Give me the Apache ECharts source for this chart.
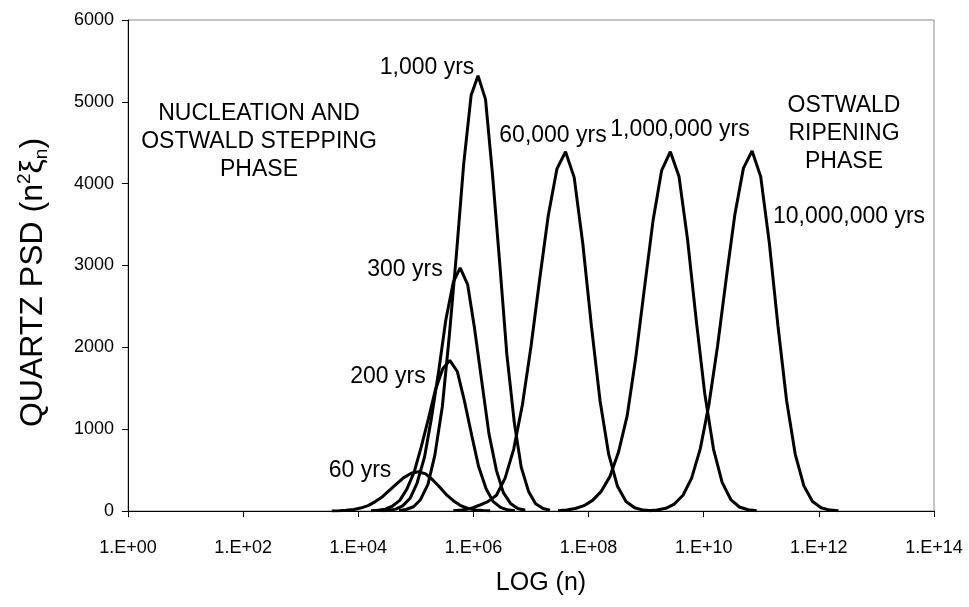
<!DOCTYPE html>
<html>
<head>
<meta charset="utf-8">
<script src="https://cdn.jsdelivr.net/npm/echarts@6/dist/echarts.min.js"></script>
<style>
  html, body { margin: 0; padding: 0; background: #fff; }
  #chart { width: 969px; height: 607px; }
</style>
</head>
<body>
<div id="chart"></div>
<script>
// Particle size distributions: x = log10(n), y = n^2 * xi_n

const logN60 = [3.54, 3.67, 3.79, 3.92, 4.04, 4.17, 4.29, 4.42, 4.54, 4.67, 4.79, 4.92, 5.04, 5.17, 5.29, 5.42, 5.54, 5.67, 5.79, 5.92, 6.04, 6.17, 6.29];
const psd60  = [1, 4, 8, 18, 36, 66, 112, 175, 252, 334, 408, 461, 480, 453, 382, 287, 193, 115, 62, 29, 12, 5, 2];

const logN200 = [4.22, 4.34, 4.47, 4.59, 4.72, 4.84, 4.97, 5.09, 5.22, 5.34, 5.47, 5.59, 5.72, 5.84, 5.97, 6.09, 6.22, 6.34, 6.47, 6.59, 6.72];
const psd200  = [3, 8, 23, 58, 130, 262, 476, 774, 1131, 1482, 1743, 1840, 1705, 1356, 926, 543, 273, 118, 44, 14, 4];

const logN300 = [4.40, 4.52, 4.65, 4.77, 4.90, 5.02, 5.15, 5.27, 5.40, 5.52, 5.65, 5.77, 5.90, 6.02, 6.15, 6.27, 6.40, 6.52, 6.65, 6.77, 6.90];
const psd300  = [2, 7, 23, 63, 155, 339, 658, 1132, 1727, 2334, 2796, 2970, 2765, 2229, 1557, 942, 494, 225, 88, 30, 9];

const logN1000 = [4.71, 4.83, 4.96, 5.08, 5.21, 5.33, 5.46, 5.58, 5.71, 5.83, 5.96, 6.08, 6.21, 6.33, 6.46, 6.58, 6.71, 6.83, 6.96, 7.08, 7.21, 7.33];
const psd1000  = [5, 18, 52, 138, 325, 683, 1277, 2135, 3183, 4236, 5080, 5320, 5030, 4122, 2997, 1917, 1080, 536, 234, 90, 30, 9];

const logN60k = [5.65, 5.80, 5.95, 6.10, 6.25, 6.40, 6.55, 6.70, 6.85, 7.00, 7.15, 7.30, 7.45, 7.60, 7.75, 7.90, 8.05, 8.20, 8.35, 8.50, 8.65, 8.80, 8.95, 9.10];
const psd60k  = [4, 12, 30, 70, 115, 193, 401, 757, 1295, 2010, 2829, 3611, 4180, 4390, 4077, 3266, 2256, 1344, 691, 306, 117, 39, 11, 3];

const logN1M = [7.47, 7.62, 7.77, 7.92, 8.07, 8.22, 8.37, 8.52, 8.67, 8.82, 8.97, 9.12, 9.27, 9.42, 9.57, 9.72, 9.87, 10.02, 10.17, 10.32, 10.47, 10.62, 10.77, 10.92];
const psd1M  = [4, 12, 30, 65, 130, 240, 420, 720, 1162, 1875, 2720, 3549, 4163, 4390, 4092, 3314, 2332, 1425, 757, 349, 140, 49, 15, 4];

const logN10M = [9.04, 9.19, 9.34, 9.49, 9.64, 9.79, 9.94, 10.09, 10.24, 10.39, 10.54, 10.69, 10.84, 10.99, 11.14, 11.29, 11.44, 11.59, 11.74, 11.89, 12.04, 12.19, 12.34];
const psd10M  = [4, 12, 33, 85, 193, 402, 759, 1298, 2014, 2835, 3619, 4190, 4400, 4086, 3273, 2261, 1347, 693, 307, 117, 39, 11, 3];

const xTickLabels = ['1.E+00', '1.E+02', '1.E+04', '1.E+06', '1.E+08', '1.E+10', '1.E+12', '1.E+14'];
const yTickLabels = ['0', '1000', '2000', '3000', '4000', '5000', '6000'];

const curves = [
  [logN60, psd60], [logN200, psd200], [logN300, psd300], [logN1000, psd1000],
  [logN60k, psd60k], [logN1M, psd1M], [logN10M, psd10M]
];

const FONT = "'Liberation Sans', Arial, Helvetica, sans-serif";

const chart = echarts.init(document.getElementById('chart'), null, { renderer: 'canvas' });

function label(text, x, y) {
  return {
    type: 'text', x: x, y: y, silent: true,
    style: {
      text: text, fill: '#000', fontSize: 23, fontFamily: FONT,
      align: 'center', verticalAlign: 'middle', textAlign: 'center', textVerticalAlign: 'middle',
      lineHeight: 28
    }
  };
}

chart.setOption({
  animation: false,
  backgroundColor: '#fff',
  grid: { left: 128, right: 35, top: 20, bottom: 96, show: true, borderColor: '#8a8a8a', borderWidth: 1 },
  xAxis: {
    type: 'value', min: 0, max: 14, interval: 2,
    name: 'LOG (n)', nameLocation: 'middle', nameGap: 60,
    nameTextStyle: { fontSize: 25, fontFamily: FONT, color: '#000', padding: [0, 0, 0, 20] },
    axisLine: { show: true, lineStyle: { color: '#000', width: 1 } },
    axisTick: { show: true, inside: false, length: 6, lineStyle: { color: '#000' } },
    axisLabel: {
      margin: 28, fontSize: 18, fontFamily: FONT, color: '#000',
      formatter: v => xTickLabels[Math.round(v / 2)]
    },
    splitLine: { show: false }
  },
  yAxis: {
    type: 'value', min: 0, max: 6000, interval: 1000,
    name: '{a|QUARTZ PSD (n}{s|2}{a|ξ}{b|n}{a|)}', nameLocation: 'middle', nameGap: 76, nameRotate: 90,
    nameTextStyle: {
      color: '#000', fontFamily: FONT, padding: [0, 34, 0, 0],
      rich: {
        a: { fontSize: 32, fontFamily: FONT, color: '#000', lineHeight: 38, verticalAlign: 'middle' },
        s: { fontSize: 19, fontFamily: FONT, color: '#000', lineHeight: 38, verticalAlign: 'top', padding: [1, 0, 0, 0] },
        b: { fontSize: 19, fontFamily: FONT, color: '#000', lineHeight: 38, verticalAlign: 'bottom', padding: [0, 0, 1, 0] }
      }
    },
    axisLine: { show: true, lineStyle: { color: '#000', width: 1 } },
    axisTick: { show: true, inside: false, length: 6, lineStyle: { color: '#000' } },
    axisLabel: {
      margin: 14, fontSize: 18, fontFamily: FONT, color: '#000',
      formatter: v => yTickLabels[Math.round(v / 1000)]
    },
    splitLine: { show: false }
  },
  series: curves.map(([xs, ys]) => ({
    type: 'line',
    data: xs.map((x, i) => [x, ys[i]]),
    showSymbol: false,
    smooth: false,
    lineStyle: { color: '#000', width: 3 },
    silent: true
  })),
  graphic: [
    label('NUCLEATION AND\nOSTWALD STEPPING\nPHASE', 259, 142),
    label('OSTWALD\nRIPENING\nPHASE', 844, 134),
    label('1,000 yrs', 427, 68),
    label('60,000 yrs', 553, 136),
    label('1,000,000 yrs', 680, 130),
    label('10,000,000 yrs', 849, 217),
    label('300 yrs', 405, 270),
    label('200 yrs', 388, 377),
    label('60 yrs', 360, 471)
  ]
});
</script>
</body>
</html>
